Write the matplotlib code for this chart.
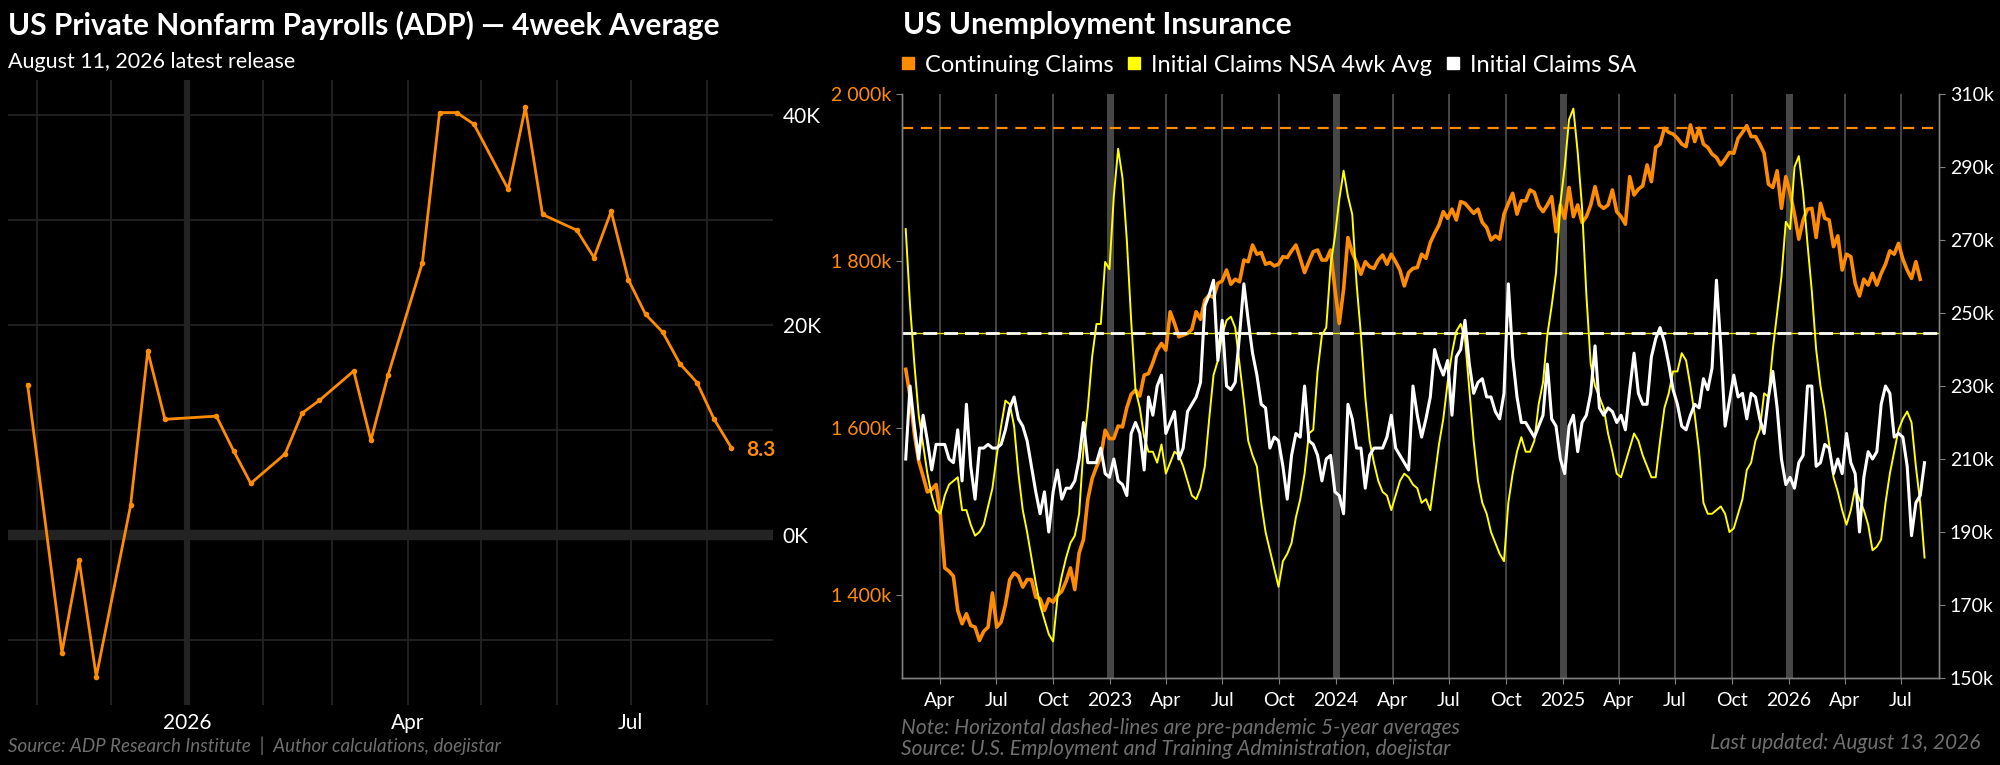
import pandas as pd
import matplotlib
matplotlib.use('Agg')
import matplotlib.pyplot as plt
import matplotlib.dates as mdates
from matplotlib.lines import Line2D
from matplotlib.ticker import MultipleLocator, FuncFormatter, FixedLocator

plt.rcParams['font.family'] = ['Lato', 'DejaVu Sans']

# ---- ADP weekly (4-week average, thousands) ----
adp_dates = ['2025-10-28', '2025-11-11', '2025-11-18', '2025-11-25', '2025-12-09',
             '2025-12-16', '2025-12-23', '2026-01-13', '2026-01-20', '2026-01-27',
             '2026-02-10', '2026-02-17', '2026-02-24', '2026-03-10', '2026-03-17',
             '2026-03-24', '2026-04-07', '2026-04-14', '2026-04-21', '2026-04-28',
             '2026-05-12', '2026-05-19', '2026-05-26', '2026-06-09', '2026-06-16',
             '2026-06-23', '2026-06-30', '2026-07-07', '2026-07-14', '2026-07-21',
             '2026-07-28', '2026-08-04', '2026-08-11']
adp_values = [14.3, -11.2, -2.4, -13.5, 2.8, 17.5, 11.0, 11.3, 8.0, 4.9,
              7.7, 11.6, 12.8, 15.6, 9.0, 15.2, 25.9, 40.2, 40.2, 39.1,
              32.9, 40.7, 30.5, 29.0, 26.4, 30.8, 24.3, 21.0, 19.3, 16.3,
              14.5, 11.0, 8.3]

# ---- Unemployment insurance, weekly from 2022-02-05 (thousands) ----
claims_start = '2022-02-05'
continuing_claims = [
    1670, 1638, 1592, 1560, 1542, 1523, 1526, 1532, 1496, 1432, 1428, 1422, 1381, 1365, 1377, 1363,
    1361, 1345, 1356, 1361, 1402, 1361, 1367, 1388, 1418, 1426, 1422, 1409, 1418, 1418, 1397, 1395,
    1381, 1395, 1391, 1399, 1404, 1416, 1432, 1406, 1450, 1466, 1514, 1539, 1553, 1565, 1597, 1587,
    1587, 1602, 1601, 1624, 1640, 1645, 1638, 1663, 1665, 1678, 1693, 1701, 1693, 1739, 1725, 1709,
    1711, 1713, 1718, 1739, 1730, 1753, 1759, 1756, 1773, 1776, 1789, 1772, 1778, 1775, 1801, 1799,
    1819, 1808, 1810, 1796, 1798, 1794, 1796, 1805, 1804, 1812, 1819, 1803, 1786, 1799, 1811, 1813,
    1801, 1801, 1813, 1766, 1725, 1766, 1828, 1810, 1798, 1784, 1799, 1793, 1791, 1801, 1807, 1796,
    1808, 1799, 1789, 1770, 1786, 1791, 1792, 1808, 1803, 1822, 1833, 1843, 1859, 1851, 1862, 1849,
    1871, 1869, 1863, 1857, 1862, 1846, 1840, 1825, 1830, 1826, 1856, 1869, 1881, 1856, 1872, 1872,
    1885, 1882, 1866, 1859, 1867, 1877, 1835, 1867, 1851, 1888, 1853, 1867, 1846, 1853, 1867, 1889,
    1867, 1863, 1867, 1885, 1859, 1853, 1844, 1901, 1879, 1886, 1890, 1915, 1895, 1936, 1940, 1959,
    1954, 1952, 1947, 1940, 1937, 1963, 1943, 1959, 1940, 1936, 1928, 1924, 1915, 1922, 1930, 1929,
    1947, 1954, 1962, 1949, 1949, 1940, 1929, 1892, 1888, 1908, 1863, 1901, 1881, 1856, 1826, 1849,
    1862, 1863, 1828, 1869, 1851, 1849, 1817, 1830, 1789, 1808, 1805, 1773, 1758, 1778, 1771, 1785,
    1771, 1785, 1796, 1812, 1808, 1821, 1802, 1789, 1779, 1799, 1778]
initial_nsa_4wk = [
    273, 252, 236, 222, 214, 206, 200, 196, 195, 200, 203, 204, 205, 196, 196, 192,
    189, 190, 192, 197, 202, 211, 219, 226, 225, 219, 206, 196, 190, 183, 176, 170,
    166, 162, 160, 172, 178, 183, 187, 189, 195, 213, 224, 238, 247, 247, 264, 262,
    282, 295, 287, 270, 248, 229, 224, 216, 212, 212, 209, 214, 206, 209, 212, 211,
    208, 204, 200, 199, 202, 208, 221, 233, 237, 244, 248, 249, 246, 236, 226, 215,
    211, 208, 198, 190, 185, 180, 175, 182, 184, 187, 194, 199, 206, 217, 218, 234,
    244, 246, 263, 271, 281, 289, 282, 277, 258, 244, 227, 215, 209, 204, 201, 200,
    196, 200, 204, 206, 205, 203, 202, 198, 199, 196, 205, 214, 221, 231, 239, 245,
    247, 243, 229, 215, 204, 198, 195, 190, 187, 184, 182, 198, 206, 212, 216, 212,
    212, 215, 225, 231, 244, 252, 261, 280, 290, 303, 306, 294, 279, 255, 236, 230,
    227, 224, 217, 212, 206, 205, 209, 213, 217, 215, 211, 208, 205, 205, 215, 224,
    228, 234, 234, 239, 237, 230, 222, 212, 198, 195, 195, 196, 197, 195, 190, 191,
    195, 199, 207, 209, 215, 218, 228, 227, 240, 250, 260, 275, 273, 290, 293, 283,
    269, 256, 240, 230, 223, 214, 205, 201, 196, 192, 196, 202, 199, 196, 192, 185,
    186, 188, 198, 206, 212, 218, 221, 223, 220, 208, 198, 183]
initial_sa = [
    210, 230, 219, 210, 222, 215, 207, 214, 214, 214, 210, 209, 218, 204, 225, 208,
    199, 213, 213, 214, 213, 213, 214, 218, 224, 227, 221, 219, 215, 208, 201, 195,
    201, 190, 201, 207, 199, 202, 202, 204, 210, 220, 209, 209, 209, 213, 206, 205,
    210, 204, 203, 200, 217, 220, 217, 207, 227, 222, 230, 233, 217, 220, 223, 210,
    213, 223, 225, 227, 231, 252, 255, 259, 237, 248, 230, 229, 231, 244, 258, 248,
    239, 233, 225, 224, 213, 216, 215, 208, 199, 211, 217, 216, 230, 215, 214, 211,
    204, 210, 211, 201, 200, 195, 225, 221, 213, 213, 202, 211, 213, 213, 213, 216,
    222, 213, 211, 209, 207, 230, 222, 216, 221, 227, 240, 236, 233, 237, 222, 238,
    240, 248, 236, 228, 231, 232, 227, 227, 223, 221, 228, 258, 238, 227, 220, 220,
    218, 216, 219, 222, 236, 221, 219, 210, 206, 219, 222, 212, 220, 222, 228, 241,
    224, 222, 224, 223, 220, 222, 218, 229, 239, 228, 225, 225, 238, 243, 246, 242,
    236, 229, 225, 219, 218, 222, 225, 224, 232, 229, 235, 259, 241, 219, 226, 233,
    227, 228, 221, 228, 227, 221, 217, 227, 234, 224, 210, 203, 205, 202, 209, 211,
    230, 230, 208, 209, 214, 213, 206, 210, 206, 217, 209, 206, 190, 205, 212, 210,
    212, 225, 230, 228, 216, 217, 216, 208, 189, 198, 200, 209]
cc_avg_pre_pandemic = 1959
ic_avg_pre_pandemic = 244.5
cc_ticks = [1400, 1600, 1800, 2000]
ic_ticks = [150, 170, 190, 210, 230, 250, 270, 290, 310]

ORANGE = '#ff8c00'
GRID = '#232323'
GRAY_TXT = '#6f6f6f'

adp_x = pd.to_datetime(adp_dates)
claims_x = pd.date_range(claims_start, periods=len(initial_sa), freq='7D')


def date_label(v, pos):
    d = mdates.num2date(v)
    return d.strftime('%Y') if d.month == 1 else d.strftime('%b')


fig = plt.figure(figsize=(20, 7.65), dpi=100, facecolor='black')

# ================= left panel: ADP =================
ax = fig.add_axes([0.004, 0.0784, 0.3825, 0.817], facecolor='black')
ax.set_xlim(pd.Timestamp('2025-10-20'), pd.Timestamp('2026-08-28'))
ax.set_ylim(-16.2, 43.3)
ax.yaxis.set_major_locator(MultipleLocator(20))
ax.yaxis.set_minor_locator(MultipleLocator(10))
ax.yaxis.set_major_formatter(FuncFormatter(lambda v, p: f'{v:.0f}K'))
ax.yaxis.tick_right()
ax.xaxis.set_major_locator(mdates.MonthLocator(bymonth=[1, 4, 7, 10]))
ax.xaxis.set_minor_locator(mdates.MonthLocator())
ax.xaxis.set_major_formatter(FuncFormatter(date_label))
ax.grid(which='both', color=GRID, lw=1.3)
ax.axhline(0, color=GRID, lw=7.5, zorder=1)
ax.axvline(pd.Timestamp('2026-01-01'), color=GRID, lw=4.5, zorder=1)
for s in ax.spines.values():
    s.set_visible(False)
ax.tick_params(which='both', length=0, colors='white', labelsize=15)
ax.tick_params(axis='y', pad=7)
ax.tick_params(axis='x', pad=6)
ax.set_axisbelow(True)
ax.plot(adp_x, adp_values, color=ORANGE, lw=2, marker='o', ms=3, zorder=3)
ax.annotate(f'{adp_values[-1]}', (adp_x[-1], adp_values[-1]), xytext=(11, -2),
            textcoords='offset points', color=ORANGE, fontsize=15, fontweight='bold',
            va='center', ha='left')

fig.text(0.004, 0.967, 'US Private Nonfarm Payrolls (ADP) \u2014 4week Average', color='white',
         fontsize=21.5, fontweight='bold', va='center', ha='left')
fig.text(0.004, 0.919, 'August 11, 2026 latest release', color='white', fontsize=15.5,
         va='center', ha='left')
fig.text(0.004, 0.025, 'Source: ADP Research Institute  |  Author calculations, doejistar',
         color=GRAY_TXT, fontsize=13.5, style='italic', va='center', ha='left')

# ================= right panel: claims =================
ax1 = fig.add_axes([0.451, 0.1137, 0.5187, 0.7634], facecolor='black')
ax2 = ax1.twinx()
ax1.set_xlim(pd.Timestamp('2022-01-30'), pd.Timestamp('2026-09-01'))
ax1.set_ylim(1300, 2000)
ax2.set_ylim(150, 310)
ax1.yaxis.set_major_locator(FixedLocator(cc_ticks))
ax1.yaxis.set_major_formatter(FuncFormatter(lambda v, p: f'{int(v):,}'.replace(',', ' ') + 'k'))
ax2.yaxis.set_major_locator(FixedLocator(ic_ticks))
ax2.yaxis.set_major_formatter(FuncFormatter(lambda v, p: f'{v:.0f}k'))
ax1.xaxis.set_major_locator(mdates.MonthLocator(bymonth=[1, 4, 7, 10]))
ax1.xaxis.set_major_formatter(FuncFormatter(date_label))

for q in pd.date_range('2022-04-01', '2026-07-01', freq='QS'):
    if q.month == 1:
        ax1.axvline(q, color='#474747', lw=5, zorder=0)
    else:
        ax1.axvline(q, color='#5a5a5a', lw=1.1, zorder=0)

for a in (ax1, ax2):
    a.spines['top'].set_visible(False)
    for side in ('left', 'right', 'bottom'):
        a.spines[side].set_color('#808080')
        a.spines[side].set_linewidth(1)
ax1.tick_params(axis='y', colors='#808080', labelcolor=ORANGE, labelsize=14, length=4)
ax2.tick_params(axis='y', colors='#808080', labelcolor='white', labelsize=14, length=4)
ax1.tick_params(axis='x', colors='#808080', labelcolor='white', labelsize=14, length=4, pad=6)

ax1.axhline(cc_avg_pre_pandemic, color=ORANGE, lw=1.6, dashes=(5, 3.5), zorder=2)
ax2.axhline(ic_avg_pre_pandemic, color='#e6e600', lw=1.0, zorder=2)
ax2.axhline(ic_avg_pre_pandemic, color='white', lw=2.0, dashes=(5, 2.5), zorder=2)

ax1.plot(claims_x[:len(continuing_claims)], continuing_claims, color=ORANGE, lw=2.6, zorder=3)
ax2.plot(claims_x, initial_nsa_4wk, color='#ffff00', lw=1.4, zorder=3)
ax2.plot(claims_x, initial_sa, color='white', lw=2.2, zorder=4)

fig.text(0.4515, 0.967, 'US Unemployment Insurance', color='white', fontsize=21.5,
         fontweight='bold', va='center', ha='left')
handles = [Line2D([], [], ls='', marker='s', ms=9, color=c) for c in (ORANGE, '#ffff00', 'white')]
fig.legend(handles, ['Continuing Claims', 'Initial Claims NSA 4wk Avg', 'Initial Claims SA'],
           loc='center left', bbox_to_anchor=(0.4505, 0.915), ncol=3, frameon=False,
           fontsize=17, labelcolor='white', handlelength=0.6, handletextpad=0.4,
           columnspacing=0.6, borderaxespad=0, borderpad=0)
fig.text(0.4505, 0.0484, 'Note: Horizontal dashed-lines are pre-pandemic 5-year averages',
         color=GRAY_TXT, fontsize=15, style='italic', va='center', ha='left')
fig.text(0.4505, 0.0209, 'Source: U.S. Employment and Training Administration, doejistar',
         color=GRAY_TXT, fontsize=15, style='italic', va='center', ha='left')
fig.text(0.99, 0.0288, 'Last updated: August 13, 2026', color=GRAY_TXT, fontsize=15,
         style='italic', va='center', ha='right')

fig.savefig('out.png', dpi=100, facecolor='black')
